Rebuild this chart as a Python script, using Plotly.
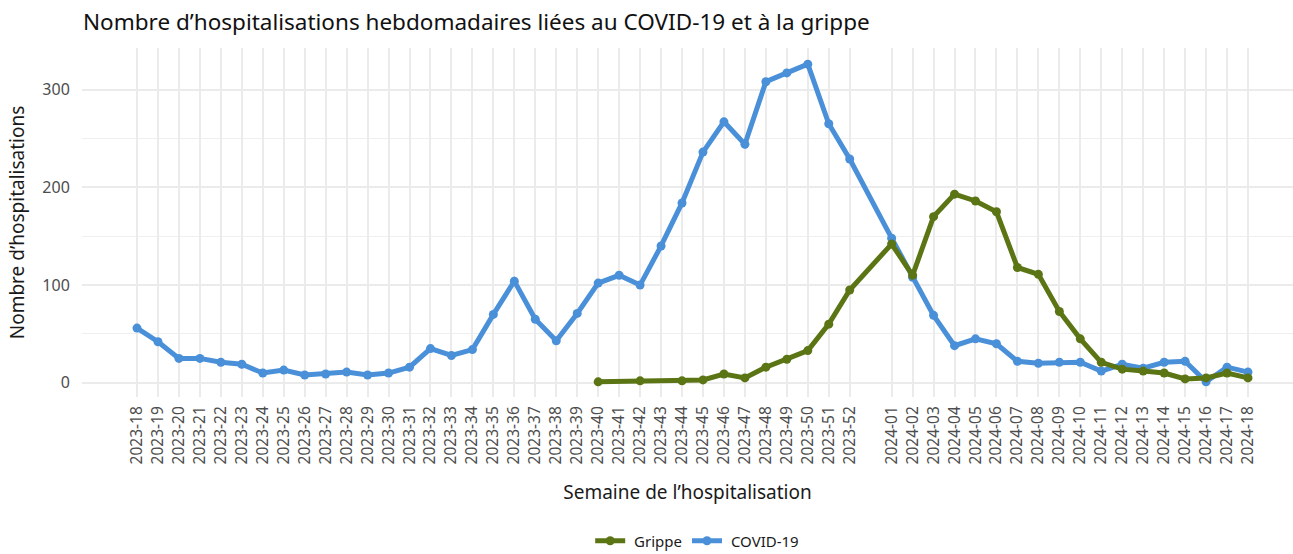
import plotly.graph_objects as go

# ---- data ----
covid_weeks = [
    "2023-18", "2023-19", "2023-20", "2023-21", "2023-22", "2023-23", "2023-24", "2023-25",
    "2023-26", "2023-27", "2023-28", "2023-29", "2023-30", "2023-31", "2023-32", "2023-33",
    "2023-34", "2023-35", "2023-36", "2023-37", "2023-38", "2023-39", "2023-40", "2023-41",
    "2023-42", "2023-43", "2023-44", "2023-45", "2023-46", "2023-47", "2023-48", "2023-49",
    "2023-50", "2023-51", "2023-52", "2024-01", "2024-02", "2024-03", "2024-04", "2024-05",
    "2024-06", "2024-07", "2024-08", "2024-09", "2024-10", "2024-11", "2024-12", "2024-13",
    "2024-14", "2024-15", "2024-16", "2024-17", "2024-18",
]
covid_values = [
    56, 42, 25, 25, 21, 19, 10, 13,
    8, 9, 11, 8, 10, 16, 35, 28,
    34, 70, 104, 65, 43, 71, 102, 110,
    100, 140, 184, 236, 267, 244, 308, 317,
    326, 265, 229, 148, 108, 69, 38, 45,
    40, 22, 20, 21, 21, 12, 19, 15,
    21, 22, 1, 16, 11,
]

grippe_weeks = [
    "2023-40", "2023-42", "2023-44", "2023-45", "2023-46", "2023-47", "2023-48", "2023-49",
    "2023-50", "2023-51", "2023-52", "2024-01", "2024-02", "2024-03", "2024-04", "2024-05",
    "2024-06", "2024-07", "2024-08", "2024-09", "2024-10", "2024-11", "2024-12", "2024-13",
    "2024-14", "2024-15", "2024-16", "2024-17", "2024-18",
]
grippe_values = [
    1, 2, 2, 3, 9, 5, 16, 24,
    33, 60, 95, 142, 110, 170, 193, 186,
    175, 118, 111, 73, 45, 21, 14, 12,
    10, 4, 5, 10, 5,
]

tick_labels = covid_weeks


def week_pos(label):
    # position along a continuous week axis (2023 has a 53rd slot)
    y, w = label.split("-")
    return (int(y) - 2023) * 53 + int(w)


GREEN = "#5B7515"
BLUE = "#4A90D9"
FONT = "Noto Sans"
GRID = "#EBEBEB"

fig = go.Figure()
fig.add_trace(go.Scatter(
    x=[week_pos(w) for w in covid_weeks], y=covid_values, name="\u00a0COVID-19",
    mode="lines+markers", line=dict(color=BLUE, width=5),
    marker=dict(color=BLUE, size=9), legendrank=2,
))
fig.add_trace(go.Scatter(
    x=[week_pos(w) for w in grippe_weeks], y=grippe_values, name="\u00a0Grippe",
    mode="lines+markers", line=dict(color=GREEN, width=5),
    marker=dict(color=GREEN, size=9), legendrank=1,
))

fig.update_layout(
    width=1293, height=554,
    paper_bgcolor="white", plot_bgcolor="white",
    margin=dict(l=82, r=0, t=48, b=157),
    font=dict(family=FONT, color="#1a1a1a"),
    title=dict(
        text="Nombre d’hospitalisations hebdomadaires liées au COVID-19 et à la grippe",
        x=83 / 1293, xanchor="left", xref="container",
        y=1 - 22 / 554, yanchor="middle", yref="container",
        font=dict(size=22.5, color="#111111", family=FONT),
    ),
    showlegend=True,
    legend=dict(
        orientation="h", xanchor="center", x=0.508,
        yanchor="middle", y=1 - 541 / 554, yref="container",
        font=dict(size=15, color="#1a1a1a"),
        itemwidth=30,
        traceorder="normal",
    ),
    xaxis=dict(
        range=[15.376, 73.147],
        automargin=False,
        tickmode="array",
        tickvals=[week_pos(w) for w in tick_labels],
        ticktext=tick_labels,
        tickangle=-90,
        tickfont=dict(size=15.5, color="#4d4d4d"),
        ticks="outside", ticklen=2, tickcolor="rgba(0,0,0,0)",
        showgrid=True, gridcolor=GRID, gridwidth=2,
        zeroline=False, showline=False,
        title=dict(text="Semaine de l’hospitalisation", font=dict(size=19, color="#1a1a1a"), standoff=22),
    ),
    yaxis=dict(
        range=[-14.5, 342.5],
        automargin=False,
        tickmode="array", tickvals=[0, 100, 200, 300],
        tickfont=dict(size=16, color="#4d4d4d"),
        ticks="outside", ticklen=8, tickcolor="rgba(0,0,0,0)",
        showgrid=True, gridcolor=GRID, gridwidth=2,
        minor=dict(tickvals=[50, 150, 250], showgrid=True, gridcolor="#EFEFEF", gridwidth=1.3),
        zeroline=False, showline=False,
        title=dict(text="Nombre d’hospitalisations", font=dict(size=19, color="#1a1a1a"), standoff=12),
    ),
)

fig.write_html(
    "out.html",
    config={"displayModeBar": False},
    post_script="document.body.style.margin='0';",
)
